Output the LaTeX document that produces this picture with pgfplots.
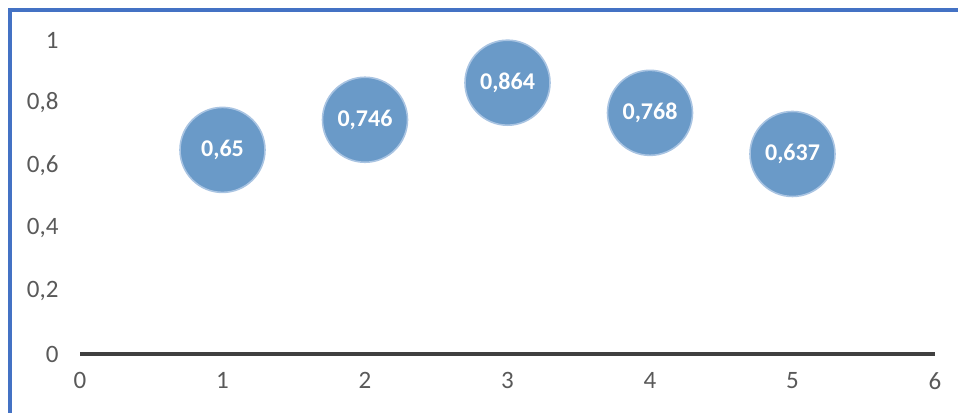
\documentclass[border=0pt]{standalone}
\usepackage{pgfplots}
\pgfplotsset{compat=1.18}
\usepackage{fontspec}
\setmainfont{Carlito}
\definecolor{bubblefill}{HTML}{6A9AC8}
\definecolor{bubbleedge}{HTML}{A9C4E2}
\definecolor{framecol}{HTML}{4472C4}
\definecolor{axiscol}{HTML}{404040}
\definecolor{tickcol}{HTML}{595959}
\begin{document}
\begin{tikzpicture}
\useasboundingbox (0,0) rectangle (958bp,413bp);
% outer chart frame (left and top edges visible)
\draw[framecol, line width=3.3bp] (10bp,-5bp) -- (10bp,403bp) -- (965bp,403bp);
\begin{axis}[
  at={(80bp,59bp)}, anchor=origin,
  scale only axis,
  width=855bp, height=314bp,
  xmin=0, xmax=6, ymin=0, ymax=1,
  xtick={0,1,...,6},
  ytick={0,0.2,0.4,0.6,0.8,1},
  xtick pos=bottom, ytick pos=left,
  axis line style={draw=none},
  clip=false,
  major tick length=0pt,
  /pgf/number format/use comma,
  /pgf/number format/precision=3,
  /pgf/number format/assume math mode=true,
  tick label style={font=\fontsize{25bp}{28bp}\selectfont, text=tickcol},
  xticklabel style={yshift=-15bp},
  yticklabel style={xshift=-18bp},
  nodes near coords,
  every node near coord/.append style={anchor=center, text=white,
    font=\fontsize{24bp}{27bp}\selectfont\bfseries},
]
% horizontal axis line
\draw[axiscol, line width=4bp] (axis cs:0,0) -- (axis cs:6,0);
% equal-size bubbles with value labels
\addplot[only marks, mark=*, mark size=42.5bp,
  mark options={fill=bubblefill, draw=bubbleedge, line width=1.6bp}]
  coordinates {(1,0.65) (2,0.746) (3,0.864) (4,0.768) (5,0.637)};
\end{axis}
\end{tikzpicture}
\end{document}
